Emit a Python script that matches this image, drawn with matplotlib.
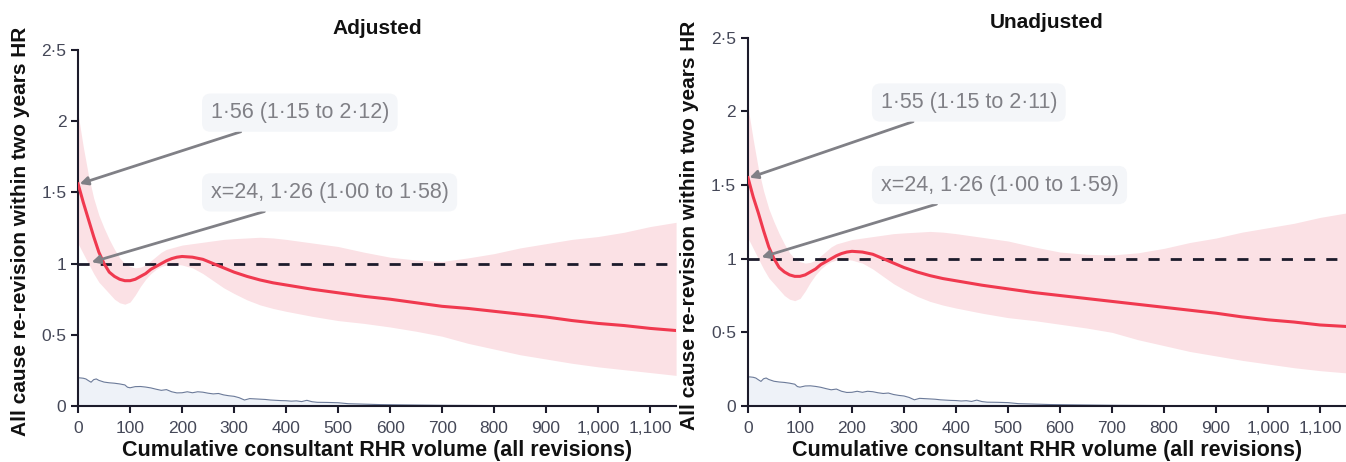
import numpy as np
import matplotlib
matplotlib.use("Agg")
import matplotlib.pyplot as plt
from matplotlib.ticker import FuncFormatter

plt.rcParams['font.family'] = ['Liberation Sans', 'DejaVu Sans']

# volume grid for the spline curves
vol = [0, 10, 20, 30, 40, 50, 60, 70, 80, 90, 100, 110, 120, 130, 140, 150, 160, 170, 180, 190,
       200, 220, 240, 260, 280, 300, 325, 350, 375, 400, 450, 500, 550, 600, 650, 700, 750,
       800, 850, 900, 950, 1000, 1050, 1100, 1150]

# Adjusted hazard ratio and 95% CI
adj_hr = [1.56, 1.43, 1.31, 1.19, 1.08, 1.00, 0.94, 0.91, 0.89, 0.88, 0.88, 0.89, 0.91, 0.93, 0.96,
          0.98, 1.00, 1.02, 1.035, 1.045, 1.05, 1.045, 1.03, 1.00, 0.97, 0.94, 0.91, 0.885, 0.865,
          0.85, 0.82, 0.795, 0.77, 0.75, 0.725, 0.70, 0.685, 0.665, 0.645, 0.625, 0.60, 0.58,
          0.565, 0.545, 0.53]
adj_hi = [2.05, 1.82, 1.62, 1.46, 1.34, 1.25, 1.17, 1.10, 1.04, 1.00, 0.98, 0.97, 0.975, 0.99,
          1.02, 1.05, 1.08, 1.10, 1.11, 1.12, 1.13, 1.14, 1.15, 1.16, 1.17, 1.175, 1.18, 1.185,
          1.18, 1.17, 1.145, 1.12, 1.08, 1.045, 1.025, 1.015, 1.04, 1.07, 1.11, 1.14, 1.17,
          1.19, 1.22, 1.26, 1.29]
adj_lo = [1.14, 1.07, 1.00, 0.93, 0.87, 0.83, 0.79, 0.75, 0.725, 0.715, 0.73, 0.78, 0.84, 0.89,
          0.93, 0.96, 0.98, 0.99, 0.995, 0.995, 0.99, 0.97, 0.93, 0.88, 0.83, 0.79, 0.745, 0.71,
          0.685, 0.665, 0.63, 0.60, 0.58, 0.555, 0.525, 0.49, 0.44, 0.40, 0.36, 0.33, 0.30,
          0.275, 0.255, 0.235, 0.215]

# Unadjusted hazard ratio and 95% CI
unadj_hr = [1.55, 1.42, 1.31, 1.19, 1.08, 1.00, 0.94, 0.91, 0.89, 0.88, 0.88, 0.89, 0.91, 0.93,
            0.96, 0.98, 1.00, 1.02, 1.035, 1.045, 1.05, 1.045, 1.03, 1.00, 0.97, 0.94, 0.91,
            0.885, 0.865, 0.85, 0.82, 0.795, 0.77, 0.75, 0.73, 0.71, 0.69, 0.67, 0.65, 0.63,
            0.605, 0.585, 0.57, 0.55, 0.54]
unadj_hi = [2.03, 1.81, 1.61, 1.46, 1.34, 1.25, 1.17, 1.10, 1.04, 1.00, 0.98, 0.97, 0.975, 0.99,
            1.02, 1.05, 1.08, 1.10, 1.11, 1.12, 1.13, 1.14, 1.15, 1.16, 1.17, 1.175, 1.18,
            1.185, 1.18, 1.17, 1.145, 1.12, 1.08, 1.045, 1.03, 1.025, 1.04, 1.07, 1.11, 1.14,
            1.18, 1.21, 1.24, 1.28, 1.31]
unadj_lo = [1.14, 1.07, 1.00, 0.93, 0.87, 0.83, 0.79, 0.75, 0.725, 0.715, 0.73, 0.78, 0.84, 0.89,
            0.93, 0.96, 0.98, 0.99, 0.995, 0.995, 0.99, 0.97, 0.93, 0.88, 0.83, 0.79, 0.745,
            0.71, 0.685, 0.665, 0.63, 0.60, 0.58, 0.555, 0.53, 0.50, 0.45, 0.41, 0.37, 0.34,
            0.31, 0.285, 0.26, 0.24, 0.225]

# distribution of volume (density strip at the bottom)
dens_x = [0, 5, 10, 15, 20, 25, 30, 35, 40, 50, 60, 70, 80, 90, 95, 100, 110, 120, 130, 140, 150,
          160, 170, 180, 190, 200, 210, 220, 230, 240, 250, 260, 270, 280, 290, 300, 310, 320,
          330, 340, 350, 360, 370, 380, 390, 400, 410, 420, 430, 440, 450, 460, 480, 500, 520,
          540, 560, 580, 600, 650, 700, 750, 800, 900, 1000, 1150]
dens_y = [0.198, 0.197, 0.195, 0.19, 0.178, 0.167, 0.185, 0.19, 0.18, 0.168, 0.163, 0.16, 0.155,
          0.148, 0.132, 0.128, 0.136, 0.137, 0.133, 0.127, 0.118, 0.11, 0.115, 0.1, 0.092, 0.093,
          0.1, 0.093, 0.1, 0.097, 0.09, 0.085, 0.088, 0.078, 0.072, 0.068, 0.058, 0.042, 0.052,
          0.05, 0.048, 0.046, 0.042, 0.04, 0.038, 0.037, 0.034, 0.036, 0.031, 0.04, 0.03, 0.026,
          0.025, 0.023, 0.016, 0.014, 0.012, 0.01, 0.009, 0.007, 0.005, 0.004, 0.003, 0.002,
          0.001, 0.0]

panels = [
    ("Adjusted", adj_hr, adj_lo, adj_hi, "1·56 (1·15 to 2·12)", "x=24, 1·26 (1·00 to 1·58)", 1.56),
    ("Unadjusted", unadj_hr, unadj_lo, unadj_hi, "1·55 (1·15 to 2·11)", "x=24, 1·26 (1·00 to 1·59)", 1.55),
]

RED = '#F0394F'
BAND = '#FBE1E5'
DARK = '#1C1B2B'
GREY = '#808086'

fig = plt.figure(figsize=(13.46, 4.62), dpi=100)
axes = [fig.add_axes([0.058, 0.1212, 0.4443, 0.7706]),
        fig.add_axes([0.5557, 0.1212, 0.4443, 0.7972])]
title_pos = [(377 / 1346, 1 - 28 / 462), (1047 / 1346, 1 - 22 / 462)]
xlab_y = [-0.095, -0.092]

dot_fmt = FuncFormatter(lambda v, p: ('%g' % v).replace('.', '·'))
comma_fmt = FuncFormatter(lambda v, p: '{:,}'.format(int(v)))

for i, (ax, (title, hr, lo, hi, lab1, lab2, hr0)) in enumerate(zip(axes, panels)):
    ax.fill_between(dens_x, 0, dens_y, color='#EEF2F8', lw=0, zorder=1)
    ax.plot(dens_x, dens_y, color='#6B7A99', lw=0.8, zorder=2)
    ax.fill_between(vol, lo, hi, color=BAND, lw=0, zorder=2)
    ax.axhline(1, color=DARK, lw=2, dashes=(4, 4), zorder=3)
    ax.plot(vol, hr, color=RED, lw=2.2, zorder=4)

    ax.set_xlim(0, 1150)
    ax.set_ylim(0, 2.5)
    ax.set_xticks(range(0, 1101, 100))
    ax.set_yticks([0, 0.5, 1, 1.5, 2, 2.5])
    ax.xaxis.set_major_formatter(comma_fmt)
    ax.yaxis.set_major_formatter(dot_fmt)
    for s in ['top', 'right']:
        ax.spines[s].set_visible(False)
    for s in ['left', 'bottom']:
        ax.spines[s].set_color(DARK)
        ax.spines[s].set_linewidth(1.5)
    ax.tick_params(direction='out', length=5, width=1.5, color=DARK,
                   labelsize=12.5, labelcolor='#454858')
    ax.tick_params(axis='x', pad=6)

    fig.text(title_pos[i][0], title_pos[i][1], title, fontsize=15, fontweight='bold',
             color='#111111', ha='center', va='center')
    ax.set_xlabel("Cumulative consultant RHR volume (all revisions)", fontsize=15.5,
                  fontweight='bold', color='#111111')
    ax.xaxis.set_label_coords(0.5, xlab_y[i])
    ax.set_ylabel("All cause re-revision within two years HR", fontsize=15,
                  fontweight='bold', color='#111111', va='center')
    ax.yaxis.set_label_coords(-0.097, 0.49)

    box = dict(boxstyle='round,pad=0.4,rounding_size=0.4', fc='#F4F6F9', ec='none')
    arrow = dict(arrowstyle='-|>', color=GREY, lw=2, mutation_scale=12, shrinkA=0, shrinkB=0)
    ax.annotate(lab1, xy=(3, hr0), xytext=(255, 2.06), fontsize=15.5, color=GREY,
                ha='left', va='center', bbox=box, arrowprops=arrow, zorder=6)
    ax.annotate(lab2, xy=(26, 1.01), xytext=(255, 1.5), fontsize=15.5, color=GREY,
                ha='left', va='center', bbox=box, arrowprops=arrow, zorder=6)

fig.savefig('out.png', dpi=100)
